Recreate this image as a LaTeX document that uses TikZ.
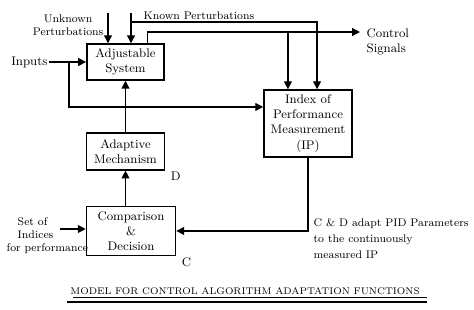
\documentclass[tikz,border=0pt]{standalone}
\usepackage{tikz}
\usetikzlibrary{arrows.meta, positioning, calc}

\begin{document}
\begin{tikzpicture}[
    x=0.0254cm, y=-0.0254cm,
    box/.style={draw, line width=1.2pt, align=center, font=\small, inner sep=2pt},
    lbl/.style={align=left, font=\small, inner sep=1pt},
    arrow/.style={-{Triangle[length=2mm, width=2mm]}, line width=0.9pt},
]
    \useasboundingbox (0,0) rectangle (474,309);

    \node[box, minimum width=1.96cm, minimum height=0.91cm] (adj) at (125.5,62) {Adjustable\\System};
    \node[box, minimum width=1.98cm, minimum height=0.94cm, below=1.3cm of adj] (am) {Adaptive\\Mechanism};
    \node[box, minimum width=2.26cm, minimum height=1.245cm, below=0.89cm of am.south west, anchor=north west] (cd) {Comparison\\\&\\Decision};
    \node[box, minimum width=2.235cm, minimum height=1.70cm] (ip) at (308,123.5) {Index of\\Performance\\Measurement\\(IP)};

    \node[lbl, below right=0cm and 0.1cm of am.south east] (dlbl) {D};
    \node[lbl, below right=0cm and 0.1cm of cd.south east] (clbl) {C};

    % outside signals
    \node[lbl, align=center, font=\footnotesize, anchor=east] (unk) at (105,25) {Unknown\\Perturbations};
    \node[lbl, font=\footnotesize, anchor=west] (known) at (142,16) {Known Perturbations};
    \node[lbl, anchor=east] (inp) at (49,62) {Inputs};
    \node[lbl, font=\footnotesize, anchor=west] (set) at (5,236) {\hspace{8pt}Set of\\\hspace{8pt}Indices\\for performance};
    \coordinate (unkin) at (108,13);
    \coordinate (knin) at (131,13);
    \coordinate (knbend) at (131,22);
    \coordinate (tap) at (69,62);
    \coordinate (setin) at (60,229);
    \coordinate (sig) at (360,32);
    \node[lbl, anchor=north west] (sigtxt) at (365,27) {Control\\Signals};
    \node[lbl, font=\footnotesize, anchor=north west] (note) at (312,217) {C \& D adapt PID Parameters\\[2pt]to the continuously\\[2pt]measured IP};

    \draw[arrow] (unkin) -- (unkin |- adj.north);
    \draw[arrow] (knin) -- (knin |- adj.north);
    \draw[arrow] (knbend) -| ([xshift=0.23cm]ip.north);
    \draw[arrow] ([xshift=0.55cm]adj.north) |- (sig);
    \draw[arrow] ([xshift=-0.51cm]ip.north |- sig) -- ([xshift=-0.51cm]ip.north);
    \draw[arrow] (inp) -- (adj);
    \draw[arrow] (tap) |- ([yshift=0.42cm]ip.west);
    \draw[arrow] (am.north) -- (am.north |- adj.south);
    \draw[arrow] (cd.north -| am.south) -- (am.south);
    \draw[arrow] (setin) -- (setin -| cd.west);
    \draw[arrow] (ip.south) |- (cd.east);

    % title
    \node[font=\scriptsize] (title) at (245,291) {MODEL FOR CONTROL ALGORITHM ADAPTATION FUNCTIONS};
    \draw[line width=0.5pt] (73,297) -- (427,297);
    \draw[line width=1pt] (67,302) -- (427,302);
\end{tikzpicture}
\end{document}
